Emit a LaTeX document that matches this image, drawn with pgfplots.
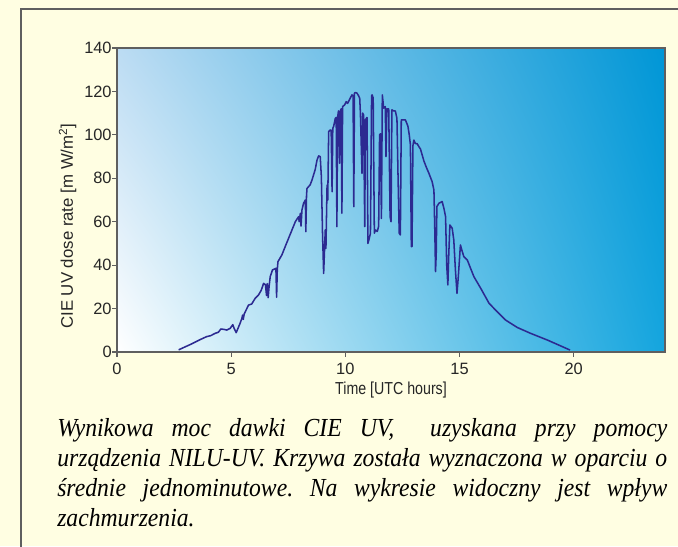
\documentclass[border=0pt]{standalone}
\usepackage{pgfplots}
\pgfplotsset{compat=1.18}
\usepackage{fontspec}
\setmainfont{Liberation Sans}
\newfontfamily\capfont[FakeStretch=0.91]{Liberation Serif}
\newfontfamily\narrowsans[FakeStretch=0.82]{Liberation Sans}
\usetikzlibrary{shadings}
\definecolor{cream}{RGB}{255,254,226}
\definecolor{framegray}{RGB}{95,95,95}
\definecolor{curve}{RGB}{44,42,145}
\definecolor{ulc}{RGB}{188,220,243}
\definecolor{urc}{RGB}{0,150,214}
\definecolor{lrc}{RGB}{20,165,222}
\pgfplotstableread{
x y
2.70 1.0
3.20 3.4
3.60 5.5
3.93 7.1
4.10 7.5
4.30 8.6
4.44 9.1
4.55 10.6
4.69 10.4
4.81 10.1
4.96 10.9
5.07 12.6
5.13 10.9
5.22 8.9
5.39 13.2
5.47 15.5
5.50 17.0
5.53 15.0
5.57 17.5
5.76 21.6
5.90 22.1
6.05 24.7
6.20 26.3
6.32 28.5
6.42 31.6
6.50 31.0
6.55 26.0
6.58 31.5
6.62 25.0
6.66 30.0
6.71 34.7
6.81 37.8
6.96 38.5
6.99 25.2
7.02 38.0
7.05 41.6
7.22 44.7
7.50 52.0
7.81 60.0
7.95 62.3
7.98 60.0
8.03 63.9
8.06 58.0
8.10 65.4
8.17 68.5
8.25 70.0
8.27 55.4
8.30 72.0
8.32 75.3
8.46 77.0
8.54 79.2
8.68 84.0
8.76 88.4
8.83 90.3
8.90 90.0
8.95 80.8
9.00 55.0
9.05 36.2
9.10 50.0
9.12 56.2
9.15 47.7
9.20 76.9
9.23 70.0
9.27 101.5
9.34 102.3
9.38 102.0
9.42 73.8
9.45 103.0
9.49 104.0
9.56 107.6
9.60 108.0
9.63 57.7
9.66 108.0
9.70 111.0
9.75 86.9
9.78 111.0
9.82 112.0
9.85 63.9
9.88 113.0
9.97 113.8
10.04 115.3
10.10 114.5
10.17 116.0
10.29 118.4
10.34 118.0
10.37 66.9
10.40 119.2
10.44 119.5
10.51 119.2
10.58 118.0
10.63 116.8
10.66 110.0
10.73 82.3
10.76 110.0
10.80 109.1
10.85 57.7
10.88 107.0
10.95 108.0
10.99 50.0
11.04 52.0
11.10 54.7
11.15 118.0
11.17 118.4
11.22 117.0
11.27 54.7
11.32 56.2
11.40 55.5
11.46 58.0
11.50 100.0
11.54 100.5
11.58 61.5
11.62 118.4
11.68 112.3
11.75 113.0
11.78 90.0
11.82 112.0
11.90 112.0
11.96 62.3
12.00 60.0
12.04 111.5
12.12 111.0
12.19 111.0
12.26 107.6
12.31 80.0
12.36 54.7
12.41 53.9
12.45 106.9
12.48 106.9
12.63 106.9
12.74 104.0
12.80 100.0
12.85 95.4
12.89 48.5
12.92 48.5
12.96 95.0
13.00 97.6
13.07 96.0
13.14 96.0
13.22 94.6
13.29 93.5
13.44 88.0
13.55 85.0
13.66 82.3
13.80 78.5
13.88 74.6
13.92 55.0
13.95 37.0
13.98 45.0
14.01 67.0
14.10 68.5
14.24 69.3
14.32 66.0
14.39 62.3
14.44 40.0
14.49 30.9
14.53 45.0
14.58 58.5
14.68 57.0
14.75 51.6
14.82 38.0
14.89 27.0
14.95 35.0
15.04 49.3
15.10 47.0
15.19 43.9
15.34 42.4
15.63 34.7
15.92 29.5
16.29 22.5
16.58 19.3
17.02 14.7
17.53 11.3
18.11 8.6
18.85 5.5
19.84 0.9
}\uvdata
\begin{document}
\begin{tikzpicture}
\useasboundingbox (0,0) rectangle (508.5pt,409.5pt);
\fill[cream] (0,0) rectangle (508.5pt,409.5pt);
\draw[framegray, line width=1.5pt] (15.75pt,-2pt) -- (15.75pt,402.75pt) -- (512pt,402.75pt);
\begin{axis}[
  at={(87.75pt,145.5pt)}, anchor=south west,
  scale only axis, width=411pt, height=228pt,
  xmin=0, xmax=24, ymin=0, ymax=140,
  xtick={0,5,10,15,20}, ytick={0,20,...,140},
  axis line style={draw=framegray, line width=0.8pt},
  tick style={draw=framegray, line width=0.8pt},
  tick align=outside, tick pos=left,
  major tick length=3.5pt,
  /pgf/number format/assume math mode=true,
  tick label style={font=\fontsize{12.3}{14}\selectfont, text=black!85},
  yticklabel style={xshift=3pt},
  xticklabel style={yshift=-1.5pt},
  xlabel={\narrowsans Time [UTC hours]},
  ylabel={CIE UV dose rate [m W/m\textsuperscript{2}]},
  every axis x label/.style={at={(rel axis cs:0.5,0)}, yshift=-28.5pt, anchor=center, font=\fontsize{13}{15}\selectfont, text=black!85},
  every axis y label/.style={at={(rel axis cs:0,0.414)}, xshift=-37pt, rotate=90, anchor=center, font=\fontsize{12.6}{15}\selectfont, text=black!85},
  axis background/.style={lower left=white, upper left=ulc, upper right=urc, lower right=lrc},
]
\addplot[curve, line width=1.15pt, line join=round, no markers] table[x=x,y=y] {\uvdata};
\end{axis}
\node[anchor=north west, inner sep=0pt, text width=457.5pt, align=justify,
      font=\capfont\itshape\fontsize{19.5}{22.5}\selectfont] at (42.75pt,96pt)
  {\frenchspacing Wynikowa moc dawki CIE UV,\ \ uzyskana przy pomocy\linebreak
   urządzenia NILU-UV. Krzywa została wyznaczona w oparciu o\linebreak
   średnie jednominutowe. Na wykresie widoczny jest wpływ\linebreak
   zachmurzenia.};
\end{tikzpicture}
\end{document}
